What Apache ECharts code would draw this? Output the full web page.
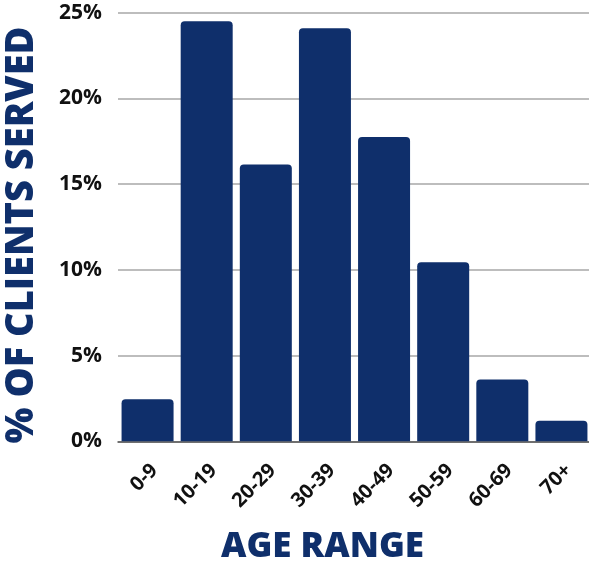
<!DOCTYPE html>
<html>
<head>
<meta charset="utf-8">
<script src="https://cdn.jsdelivr.net/npm/echarts@6/dist/echarts.min.js"></script>
<style>
  html, body { margin: 0; padding: 0; background: #ffffff; }
  #chart { width: 589px; height: 562px; }
</style>
</head>
<body>
<div id="chart"></div>
<script>
// Share of clients served, by age range
const ageRanges = ['0-9', '10-19', '20-29', '30-39', '40-49', '50-59', '60-69', '70+'];
const clientShare = [2.45, 24.5, 16.15, 24.1, 17.75, 10.45, 3.6, 1.2];
const yTicks = [0, 5, 10, 15, 20, 25];

const navy = '#0f2f6b';
const chart = echarts.init(document.getElementById('chart'), null, { renderer: 'canvas' });

chart.setOption({
  animation: false,
  backgroundColor: '#ffffff',
  grid: {
    left: 118, top: 12.7, width: 473, height: 428.6,
    containLabel: false,
    outerBoundsMode: 'none'
  },
  xAxis: {
    type: 'category',
    data: ageRanges,
    axisLine: { show: true, lineStyle: { color: '#555555', width: 1.5 } },
    axisTick: { show: false },
    axisLabel: {
      rotate: 45,
      margin: 19,
      verticalAlign: 'top',
      color: '#111111',
      fontFamily: 'Open Sans',
      fontWeight: 'bold',
      fontSize: 20
    },
    name: 'AGE RANGE',
    nameLocation: 'middle',
    nameGap: 88,
    nameTextStyle: {
      color: navy,
      fontFamily: 'Open Sans',
      fontWeight: 800,
      fontSize: 35,
      padding: [0, 64, 0, 0]
    }
  },
  yAxis: {
    type: 'value',
    min: yTicks[0],
    max: yTicks[yTicks.length - 1],
    interval: 5,
    axisLine: { show: false },
    axisTick: { show: false },
    splitLine: { lineStyle: { color: '#bdbdbd', width: 2 } },
    axisLabel: {
      margin: 16,
      color: '#111111',
      fontFamily: 'Open Sans',
      fontWeight: 'bold',
      fontSize: 21,
      formatter: v => v + '%'
    },
    name: '% OF CLIENTS SERVED',
    nameLocation: 'middle',
    nameGap: 77,
    nameRotate: 90,
    nameTextStyle: {
      color: navy,
      fontFamily: 'Open Sans',
      fontWeight: 800,
      fontSize: 38,
      padding: [0, 16, 0, 0]
    }
  },
  series: [{
    type: 'bar',
    data: clientShare,
    barWidth: 52,
    itemStyle: { color: navy, borderRadius: [4, 4, 0, 0] }
  }]
});
</script>
</body>
</html>
